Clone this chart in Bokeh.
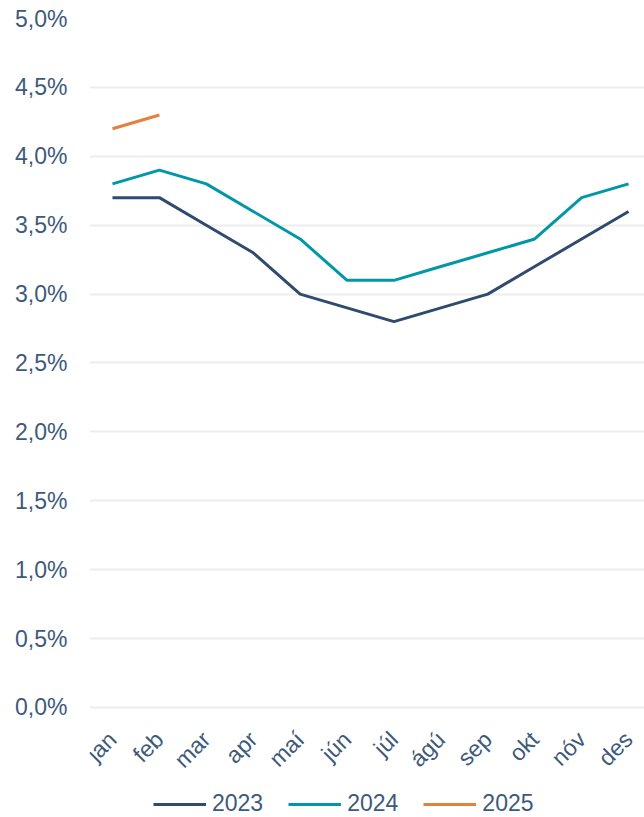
import math
from bokeh.plotting import figure
from bokeh.models import Range1d, FixedTicker, CustomJSTickFormatter, Legend, LegendItem
from bokeh.embed import file_html
from bokeh.resources import INLINE

months = ["jan", "feb", "mar", "apr", "maí", "jún", "júl", "ágú", "sep", "okt", "nóv", "des"]
y2023 = [3.7, 3.7, 3.5, 3.3, 3.0, 2.9, 2.8, 2.9, 3.0, 3.2, 3.4, 3.6]
y2024 = [3.8, 3.9, 3.8, 3.6, 3.4, 3.1, 3.1, 3.2, 3.3, 3.4, 3.7, 3.8]
y2025 = [4.2, 4.3]
y_ticks = [0.0, 0.5, 1.0, 1.5, 2.0, 2.5, 3.0, 3.5, 4.0, 4.5, 5.0]

C23 = "#2F4B6E"
C24 = "#0097A7"
C25 = "#E5803F"
TXT = "#3D5A7A"
FONT = "Liberation Sans"

# frame extends below zero so the legend can sit under the month labels
p = figure(frame_width=555, frame_height=799, output_backend="svg", toolbar_location=None,
           x_range=Range1d(-0.49, 11.34), y_range=Range1d(-0.7983, 5),
           min_border_left=89, min_border_right=0, min_border_top=18, min_border_bottom=0)
p.outline_line_color = None
p.background_fill_color = "white"
p.border_fill_color = "white"

r23 = p.line(list(range(len(y2023))), y2023, line_color=C23, line_width=3)
r24 = p.line(list(range(len(y2024))), y2024, line_color=C24, line_width=3)
r25 = p.line(list(range(len(y2025))), y2025, line_color=C25, line_width=3)

p.yaxis.ticker = FixedTicker(ticks=y_ticks)
p.yaxis.formatter = CustomJSTickFormatter(code="return tick.toFixed(1).replace('.', ',') + '%';")
p.yaxis.axis_line_color = None
p.yaxis.major_tick_line_color = None
p.yaxis.minor_tick_line_color = None
p.yaxis.major_label_text_font = FONT
p.yaxis.major_label_text_font_size = "23px"
p.yaxis.major_label_text_color = TXT
p.yaxis.major_label_standoff = 16

p.xaxis.fixed_location = 0
p.xaxis.ticker = FixedTicker(ticks=list(range(len(months))))
p.xaxis.major_label_overrides = {i: m for i, m in enumerate(months)}
p.xaxis.major_label_orientation = math.pi / 4
p.xaxis.axis_line_color = None
p.xaxis.major_tick_line_color = None
p.xaxis.minor_tick_line_color = None
p.xaxis.major_label_text_font = FONT
p.xaxis.major_label_text_font_size = "23px"
p.xaxis.major_label_text_color = TXT
p.xaxis.major_label_standoff = 22

p.xgrid.grid_line_color = None
p.ygrid.grid_line_color = "#EDEDED"
p.ygrid.grid_line_width = 2

legend = Legend(items=[LegendItem(label="2023", renderers=[r23]),
                       LegendItem(label="2024", renderers=[r24]),
                       LegendItem(label="2025", renderers=[r25])],
                orientation="horizontal", location=(64, 0),
                border_line_color=None, background_fill_alpha=0,
                label_text_font=FONT, label_text_font_size="23px",
                label_text_color=TXT, glyph_width=53, glyph_height=24,
                spacing=25, label_standoff=6, padding=0, margin=0)
p.add_layout(legend, "center")

open("out.html", "w").write(file_html(p, INLINE))
